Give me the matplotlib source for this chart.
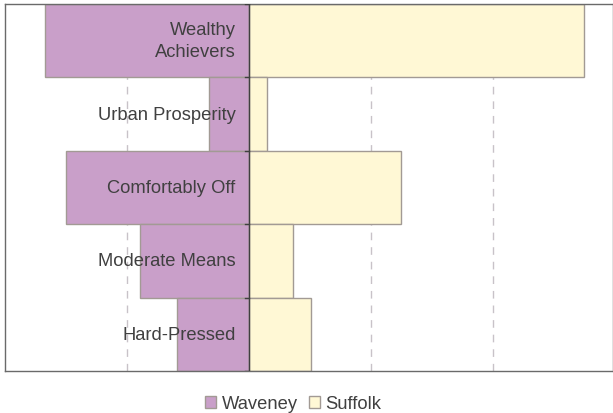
import matplotlib.pyplot as plt
import numpy as np

plt.rcParams['font.family'] = ['Liberation Sans', 'DejaVu Sans']

# Data (share of population, %)
categories = ['Wealthy\nAchievers', 'Urban Prosperity', 'Comfortably Off', 'Moderate Means', 'Hard-Pressed']
waveney = [16.7, 3.3, 15.0, 8.9, 5.9]
suffolk = [27.5, 1.5, 12.5, 3.6, 5.1]

waveney_color = '#c99fc9'
suffolk_color = '#fff8d5'
edge_color = '#a29a94'
text_color = '#404040'

fig = plt.figure(figsize=(6.13, 4.14), dpi=100)
ax = fig.add_axes([5 / 613, 1 - 372 / 414, 1 - 5 / 613, 367 / 414])

y = np.arange(len(categories))
ax.barh(y, [-v for v in waveney], height=1.0, color=waveney_color,
        edgecolor=edge_color, linewidth=1, label='Waveney', zorder=2)
ax.barh(y, suffolk, height=1.0, color=suffolk_color,
        edgecolor=edge_color, linewidth=1, label='Suffolk', zorder=2)

ax.set_xlim(-20, 29.85)
ax.set_ylim(len(categories) - 0.5, -0.5)

# dashed gridlines
for gx in [-10, 10, 20]:
    ax.axvline(gx, color='#c8c2c8', linestyle=(0, (5.5, 5)), linewidth=1, zorder=1)
ax.axvline(0, color='#404040', linewidth=1, zorder=3)

# category labels placed inside the left side
for yi, lab in zip(y, categories):
    ax.text(-1.1, yi, lab, ha='right', va='center', fontsize=13.2,
            color=text_color, zorder=4, linespacing=1.35)

# short tick marks at category boundaries
for b in np.arange(-0.5, len(categories), 1.0):
    ax.plot([-0.35, 0], [b, b], color='#404040', linewidth=1, zorder=3)

ax.set_xticks([])
ax.set_yticks([])
for side in ['top', 'bottom', 'left', 'right']:
    ax.spines[side].set_color('#6a6a6a')
    ax.spines[side].set_linewidth(1)

leg = fig.legend(loc='center', bbox_to_anchor=(0.478, 1 - 405 / 414), ncol=2,
                 frameon=False, fontsize=13.2, handlelength=0.6, handleheight=0.6,
                 handletextpad=0.3, columnspacing=0.6, borderpad=0)
for t in leg.get_texts():
    t.set_color(text_color)

fig.savefig('out.png', dpi=100)
